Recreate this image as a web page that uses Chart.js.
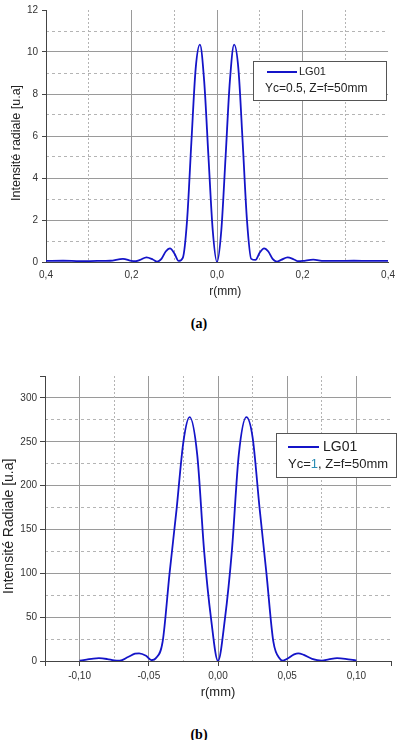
<!DOCTYPE html>
<html>
<head>
<meta charset="utf-8">
<script src="https://cdn.jsdelivr.net/npm/chart.js@4"></script>
<style>
  body { margin: 0; background: #fff; width: 398px; height: 740px; position: relative; overflow: hidden; }
  .box { position: absolute; left: 0; width: 398px; }
  .box canvas { display: block; }
  .cap { position: absolute; left: 0; width: 398px; text-align: center; font: bold 14px "Liberation Serif", serif; color: #000; }
</style>
</head>
<body>
<div class="box" style="top:0;height:300px"><canvas id="chartA" width="398" height="300"></canvas></div>
<div class="cap" style="top:316px">(a)</div>
<div class="box" style="top:360px;height:340px"><canvas id="chartB" width="398" height="340"></canvas></div>
<div class="cap" style="top:727px">(b)</div>
<script>
// chart (a): Yc=0.5
const rA = [-0.40, -0.36, -0.32, -0.28, -0.25, -0.22, -0.20, -0.19, -0.18, -0.165, -0.15, -0.14, -0.13, -0.12, -0.11, -0.10, -0.09, -0.08,
  -0.07, -0.06, -0.05, -0.04, -0.03, -0.02, -0.01, 0.00, 0.01, 0.02, 0.03, 0.04, 0.05, 0.06, 0.07,
  0.08, 0.09, 0.10, 0.11, 0.12, 0.13, 0.14, 0.15, 0.165, 0.18, 0.19, 0.20, 0.225, 0.25, 0.28, 0.32, 0.36, 0.40];
const iA = [0.05, 0.06, 0.04, 0.05, 0.06, 0.15, 0.05, 0.04, 0.10, 0.22, 0.12, 0.02, 0.15, 0.50, 0.65, 0.42, 0.05, 0.20,
  2.0, 5.7, 9.2, 10.35, 8.6, 5.0, 1.5, 0.0, 1.5, 5.0, 8.6, 10.35, 9.2, 5.7, 2.0,
  0.15, 0.10, 0.45, 0.65, 0.50, 0.15, 0.02, 0.10, 0.22, 0.12, 0.04, 0.05, 0.11, 0.05, 0.05, 0.06, 0.05, 0.05];
const xTicksA = [-0.4, -0.2, 0, 0.2, 0.4];
const xMinorA = [-0.3, -0.1, 0.1, 0.3];
const yTicksA = [0, 2, 4, 6, 8, 10, 12];
const yMinorA = [1, 3, 5, 7, 9, 11];

// chart (b): Yc=1
const rB = [-0.100, -0.095, -0.090, -0.086, -0.080, -0.075, -0.071, -0.065, -0.060, -0.057, -0.052, -0.048, -0.045,
  -0.040, -0.035, -0.030, -0.025, -0.0205, -0.015, -0.010, -0.005, 0.000, 0.005, 0.010, 0.015, 0.0205, 0.025, 0.030, 0.035, 0.040,
  0.045, 0.047, 0.050, 0.055, 0.058, 0.062, 0.068, 0.075, 0.080, 0.086, 0.092, 0.100];
const iB = [0.3, 1.5, 2.8, 3.2, 2.2, 0.6, 0.3, 4.5, 8.3, 8.8, 6.0, 1.0, 3.0,
  22, 100, 172, 250, 278, 235, 125, 48, 0, 48, 125, 235, 278, 255, 175, 100, 22,
  2.0, 0.5, 2.5, 7.5, 8.8, 7.0, 2.5, 0.5, 1.8, 3.2, 2.5, 0.5];
const xTicksB = [-0.125, -0.10, -0.05, 0, 0.05, 0.10, 0.125];
const xMinorB = [-0.075, -0.025, 0.025, 0.075];
const yTicksB = [0, 50, 100, 150, 200, 250, 300, 325];
const yMinorB = [25, 75, 125, 175, 225, 275];

const lineColor = '#1414c8';
const gridColor = '#9a9a9a';
const dashColor = '#b4b4b4';
const axisColor = '#444';
const fontFam = '"Liberation Sans", Arial, sans-serif';
const none = 'rgba(0,0,0,0)';

function legendBox(o) {
  return {
    id: 'legendBox',
    afterDatasetsDraw(chart) {
      const ctx = chart.ctx;
      ctx.save();
      ctx.fillStyle = '#fff';
      ctx.fillRect(o.x, o.y, o.w, o.h);
      ctx.strokeStyle = '#555';
      ctx.lineWidth = 1;
      ctx.strokeRect(o.x + 0.5, o.y + 0.5, o.w, o.h);
      ctx.strokeStyle = lineColor;
      ctx.lineWidth = 2;
      ctx.beginPath();
      ctx.moveTo(o.lx1, o.ly);
      ctx.lineTo(o.lx2, o.ly);
      ctx.stroke();
      ctx.textBaseline = 'middle';
      ctx.fillStyle = '#222';
      ctx.font = o.f1 + 'px ' + fontFam;
      ctx.fillText('LG01', o.tx, o.ly);
      ctx.font = o.f2 + 'px ' + fontFam;
      let x = o.sx;
      o.parts.forEach(([t, c]) => {
        ctx.fillStyle = c;
        ctx.fillText(t, x, o.sy);
        x += ctx.measureText(t).width;
      });
      ctx.restore();
    }
  };
}

function minorScale(pos, min, max, vals, dash) {
  return {
    type: 'linear', position: pos, min: min, max: max,
    afterBuildTicks: s => { s.ticks = vals.map(v => ({ value: v })); },
    afterFit: s => { if (pos === 'left') s.width = 0; else s.height = 0; },
    ticks: { display: false },
    grid: { color: dashColor, drawTicks: false, lineWidth: 1 },
    border: { display: false, dash: dash }
  };
}

// (a)
new Chart(document.getElementById('chartA'), {
  type: 'line',
  data: {
    datasets: [{
      data: rA.map((r, i) => ({ x: r, y: iA[i] })),
      borderColor: lineColor, borderWidth: 1.8, pointRadius: 0,
      cubicInterpolationMode: 'monotone', fill: false
    }]
  },
  options: {
    responsive: false, animation: false,
    layout: { padding: { top: 8, right: 8, left: 0, bottom: 0 } },
    plugins: { legend: { display: false }, tooltip: { enabled: false } },
    scales: {
      x: {
        type: 'linear', min: -0.4, max: 0.4,
        afterBuildTicks: s => { s.ticks = xTicksA.map(v => ({ value: v })); },
        afterFit: s => { s.height = 38; },
        ticks: {
          autoSkip: false, maxRotation: 0, padding: 3, color: '#333', font: { family: fontFam, size: 10 },
          callback: v => Math.abs(v).toFixed(1).replace('.', ',')
        },
        grid: { color: c => (c.tick && Math.abs(c.tick.value) > 0.39 ? none : gridColor), tickLength: 4, tickColor: none },
        border: { color: axisColor, width: 1 },
        title: { display: true, text: '\u00a0\u00a0\u00a0\u00a0\u00a0r(mm)', color: '#222', font: { family: fontFam, size: 12 }, padding: { top: 0, bottom: 1 } }
      },
      y: {
        type: 'linear', min: 0, max: 12,
        afterBuildTicks: s => { s.ticks = yTicksA.map(v => ({ value: v })); },
        afterFit: s => { s.width = 46; },
        ticks: { autoSkip: false, padding: 4, color: '#333', font: { family: fontFam, size: 10 } },
        grid: { color: c => (c.tick && c.tick.value >= 12 ? none : gridColor), tickLength: 4, tickColor: axisColor },
        border: { color: axisColor, width: 1 },
        title: { display: true, text: 'Intensité radiale [u.a]\u00a0\u00a0\u00a0\u00a0', color: '#222', font: { family: fontFam, size: 12.5 }, padding: { top: 9, bottom: 0 } }
      },
      xMinor: minorScale('bottom', -0.4, 0.4, xMinorA, [2, 2]),
      yMinor: minorScale('left', 0, 12, yMinorA, [3, 3])
    }
  },
  plugins: [legendBox({
    x: 253, y: 61, w: 133, h: 39, lx1: 267, lx2: 297, ly: 72, tx: 299, f1: 11, sx: 265, sy: 89, f2: 12,
    parts: [['Yc=0.5, Z=f=50mm', '#222']]
  })]
});

// (b)
new Chart(document.getElementById('chartB'), {
  type: 'line',
  data: {
    datasets: [{
      data: rB.map((r, i) => ({ x: r, y: iB[i] })),
      borderColor: lineColor, borderWidth: 1.8, pointRadius: 0,
      cubicInterpolationMode: 'monotone', fill: false
    }]
  },
  options: {
    responsive: false, animation: false,
    layout: { padding: { top: 16, right: 7, left: 0, bottom: 0 } },
    plugins: { legend: { display: false }, tooltip: { enabled: false } },
    scales: {
      x: {
        type: 'linear', min: -0.125, max: 0.125,
        afterBuildTicks: s => { s.ticks = xTicksB.map(v => ({ value: v })); },
        afterFit: s => { s.height = 39; },
        ticks: {
          autoSkip: false, maxRotation: 0, padding: 4, color: '#333', font: { family: fontFam, size: 10 },
          callback: v => {
            if (Math.abs(v) > 0.11) return '';
            const n = Math.round(v * 100) / 100;
            return (Math.abs(n) < 1e-9 ? 0 : n).toFixed(2).replace('.', ',');
          }
        },
        grid: { color: c => (c.tick && Math.abs(c.tick.value) > 0.11 ? none : gridColor), tickLength: 5, tickColor: axisColor },
        border: { color: axisColor, width: 1 },
        title: { display: true, text: 'r(mm)', color: '#222', font: { family: fontFam, size: 13 }, padding: { top: 0, bottom: 0 } }
      },
      y: {
        type: 'linear', min: 0, max: 325,
        afterBuildTicks: s => { s.ticks = yTicksB.map(v => ({ value: v })); },
        afterFit: s => { s.width = 45; },
        ticks: {
          autoSkip: false, padding: 3, color: '#333', font: { family: fontFam, size: 10 },
          callback: v => (v > 300 ? '' : String(v))
        },
        grid: { color: c => (c.tick && c.tick.value > 300 ? none : gridColor), tickLength: 5, tickColor: axisColor },
        border: { color: axisColor, width: 1 },
        title: { display: true, text: 'Intensité Radiale [u.a]\u00a0\u00a0\u00a0\u00a0', color: '#222', font: { family: fontFam, size: 14 }, padding: { top: 1, bottom: 0 } }
      },
      xMinor: minorScale('bottom', -0.125, 0.125, xMinorB, [2, 2]),
      yMinor: minorScale('left', 0, 325, yMinorB, [3, 3])
    }
  },
  plugins: [legendBox({
    x: 276, y: 73, w: 120, h: 44, lx1: 288, lx2: 319, ly: 87, tx: 323, f1: 14, sx: 288, sy: 104, f2: 13,
    parts: [['Yc=', '#222'], ['1', '#2a8cb4'], [', Z=f=50mm', '#222']]
  })]
});
</script>
</body>
</html>
